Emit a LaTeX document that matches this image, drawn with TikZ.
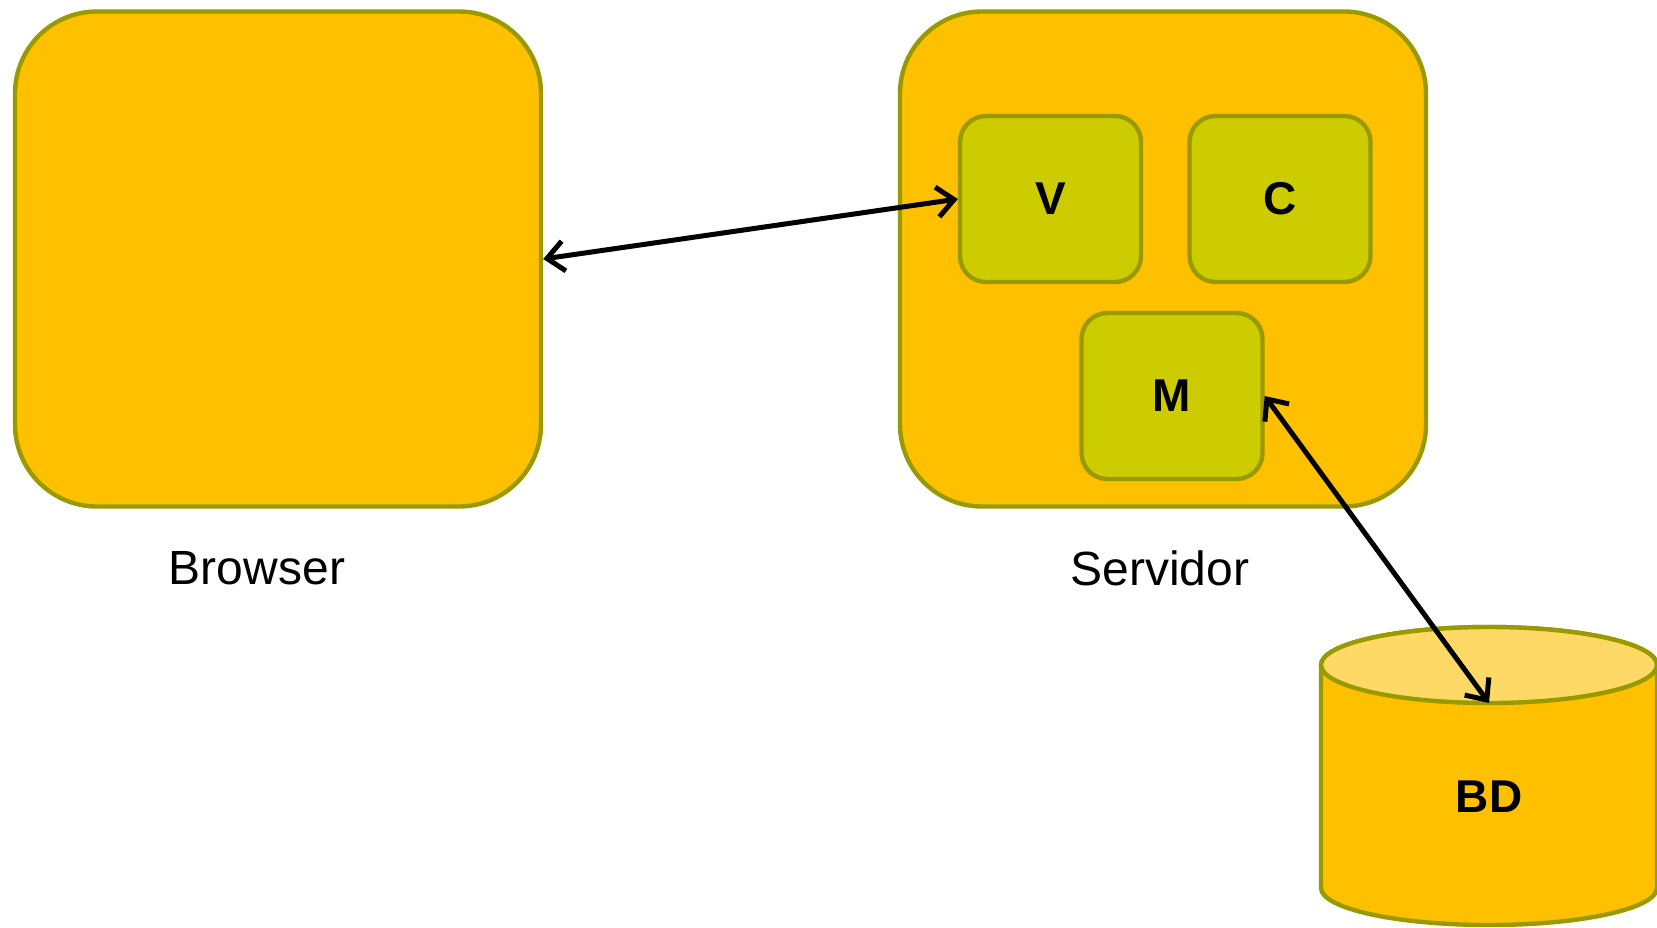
\documentclass[tikz,border=0pt]{standalone}
\usepackage{fontspec}
\setmainfont{Liberation Sans}
\usetikzlibrary{arrows.meta}
\definecolor{boxfill}{HTML}{FFC000}
\definecolor{boxline}{HTML}{999900}
\definecolor{innerfill}{HTML}{CCCC00}
\definecolor{topfill}{HTML}{FFD966}
\tikzset{
  bigbox/.style={draw=boxline, fill=boxfill, line width=4.4pt, rounded corners=82pt,
    minimum width=526pt, minimum height=495pt, inner sep=0pt},
  smallbox/.style={draw=boxline, fill=innerfill, line width=4.4pt, rounded corners=26pt,
    minimum width=181pt, minimum height=166pt, inner sep=0pt, font=\fontsize{46}{50}\selectfont\bfseries},
  lbl/.style={font=\fontsize{48}{54}\selectfont, inner sep=0pt},
  barb/.style={Straight Barb[length=17pt,width=30pt,line width=5pt]},
  conn/.style={draw=black, line width=5pt, {Straight Barb[length=17pt,width=30pt]}-{Straight Barb[length=17pt,width=30pt]}}
}
\begin{document}
\begin{tikzpicture}[x=1pt,y=-1pt]
\useasboundingbox (0,0) rectangle (1657,927);
% Browser
\node[bigbox] (browser) at (278,259) {};
\node[lbl] (browserlbl) at (257,568) {Browser};
% Servidor
\node[bigbox] (servidor) at (1163,259) {};
\node[lbl] (servidorlbl) at (1160,568) {Servidor};
% inner boxes
\node[smallbox] (v) at (1050.5,199) {V};
\node[smallbox] (c) at (1280,199) {C};
\node[smallbox] (m) at (1172,396) {M};
% cylinder BD
\filldraw[draw=boxline, fill=boxfill, line width=4.4pt]
  (1321,665) -- (1321,888) arc[start angle=180, end angle=0, x radius=168, y radius=37]
  -- (1657,665) arc[start angle=0, end angle=-180, x radius=168, y radius=38] -- cycle;
\filldraw[draw=boxline, fill=topfill, line width=4.4pt] (1489,665) ellipse[x radius=168, y radius=38];
\coordinate (bdtop) at (1489,703);
\node[font=\fontsize{46}{50}\selectfont\bfseries, inner sep=0pt] (bd) at (1489,797) {BD};
% connectors
\draw[conn] (browser.east) -- (v.west);
\draw[conn] (m.east) -- (bdtop);
\end{tikzpicture}
\end{document}
